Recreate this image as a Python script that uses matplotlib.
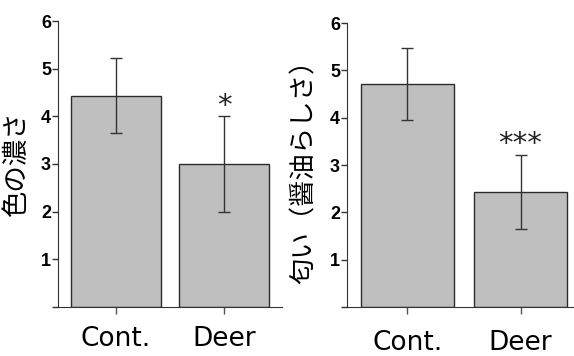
import numpy as np
import matplotlib.pyplot as plt

# panel data: mean and error bar ends
groups = ["Cont.", "Deer"]

color_mean = [4.43, 3.0]
color_err_lo = [3.64, 2.0]
color_err_hi = [5.22, 4.0]
color_stars = "*"

smell_mean = [4.72, 2.43]
smell_err_lo = [3.96, 1.64]
smell_err_hi = [5.47, 3.22]
smell_stars = "***"

yticks = [0, 1, 2, 3, 4, 5, 6]
ytick_labels = ["", "1", "2", "3", "4", "5", "6"]

jp_font = ["Noto Sans CJK JP", "DejaVu Sans"]


def draw_panel(ax, mean, lo, hi, stars, ylabel, xpad, star_off):
    x = np.arange(len(groups))
    mean = np.array(mean)
    yerr = np.vstack((mean - np.array(lo), np.array(hi) - mean))
    ax.bar(x, mean, width=0.83, color="#bfbfbf", edgecolor="#2b2b2b", linewidth=1.0)
    ax.errorbar(x, mean, yerr=yerr, fmt="none", ecolor="#333333",
                elinewidth=1.0, capsize=4.5, capthick=1.0)
    ax.text(x[1], hi[1] + star_off, stars, ha="center", va="center",
            fontsize=21, family="DejaVu Sans", color="#222222")

    ax.set_xlim(-0.535, 1.535)
    ax.set_ylim(0, 6)
    ax.spines["top"].set_visible(False)
    ax.spines["right"].set_visible(False)
    ax.spines["left"].set_color("#333333")
    ax.spines["bottom"].set_color("#333333")

    ax.set_yticks(yticks)
    ax.set_yticklabels(ytick_labels)
    for lbl in ax.get_yticklabels():
        lbl.set_fontfamily("Liberation Sans")
        lbl.set_fontweight("bold")
        lbl.set_fontsize(13)
    ax.tick_params(axis="y", length=4, width=1, color="#333333", pad=1)
    ax.set_xticks(x)
    ax.set_xticklabels(groups, fontsize=19, family="DejaVu Sans")
    ax.tick_params(axis="x", length=5, width=1, color="#555555", pad=xpad)

    ax.set_ylabel(ylabel, fontsize=19, family=jp_font)
    ax.yaxis.set_label_coords(-0.125, 0.5)


fig = plt.figure(figsize=(5.74, 3.56), dpi=100)

ax1 = fig.add_axes([58 / 574, 49 / 356, 224 / 574, 286 / 356])
draw_panel(ax1, color_mean, color_err_lo, color_err_hi, color_stars,
           "色の濃さ", 9, 0.22)

ax2 = fig.add_axes([347 / 574, 49 / 356, 234 / 574, 284 / 356])
draw_panel(ax2, smell_mean, smell_err_lo, smell_err_hi, smell_stars,
           "匂い（醤油らしさ）", 11.5, 0.22)

fig.savefig("out.png", dpi=100)
